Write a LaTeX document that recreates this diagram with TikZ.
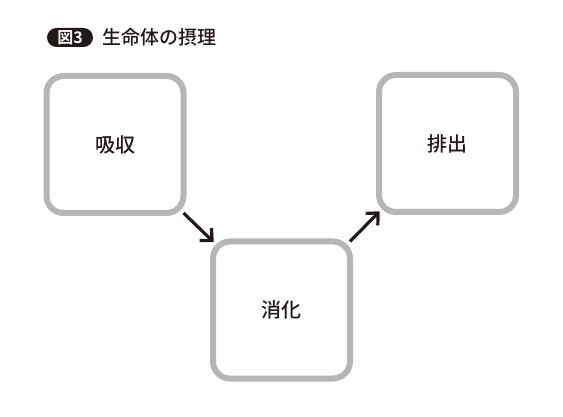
\documentclass[tikz,border=0pt]{standalone}
\usepackage{fontspec}
\newfontfamily\cjk[BoldFont={Noto Sans CJK JP Bold}]{Noto Sans CJK JP Medium}
\usetikzlibrary{arrows.meta}
\definecolor{boxgray}{HTML}{B5B6B6}
\definecolor{ink}{HTML}{231815}

\begin{document}
\begin{tikzpicture}[
    x=1pt, y=1pt,
    stage/.style={draw=boxgray, line width=6pt, fill=white, rounded corners=17pt,
        minimum size=137pt, outer sep=0pt, text=ink, font=\cjk\fontsize{20}{24}\selectfont},
    flow/.style={draw=ink, line width=3.2pt, -{Straight Barb[length=9pt,width=17pt,line width=3.2pt]},
        shorten <=0pt, shorten >=-1pt},
    badge/.style={fill=ink, text=white, rounded corners=9.5pt, minimum height=19pt,
        minimum width=46pt, inner sep=0pt, font=\cjk\bfseries\fontsize{16}{18}\selectfont},
    heading/.style={anchor=west, inner sep=0pt, text=ink, font=\cjk\fontsize{19}{22}\selectfont}
]
\useasboundingbox (0,0) rectangle (563,-417);

% title
\node[badge] (fig) at (70,-37.5) {図3};
\node[heading] (title) at (102,-37.5) {生命体の摂理};

% stages
\node[stage] (absorb) at (115,-144.5) {吸収};
\node[stage] (digest) at (281.5,-310) {消化};
\node[stage] (excrete) at (447.5,-143.5) {排出};

\draw[flow] (absorb.south east) -- (digest.north west);
\draw[flow] (digest.north east) -- (excrete.south west);

\end{tikzpicture}
\end{document}
